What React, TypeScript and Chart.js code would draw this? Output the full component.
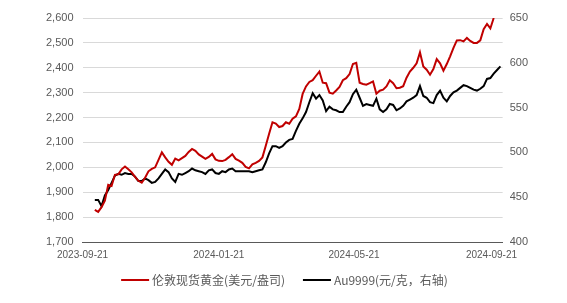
import React, { useEffect, useRef } from "react";
import { Chart, registerables } from "chart.js";

Chart.register(...registerables);

const START_DATE = "2023-09-21";
const AXIS_END_DAY = 376;

const xTickDates = ["2023-09-21", "2024-01-21", "2024-05-21", "2024-09-21"];

const seriesNames = ["伦敦现货黄金(美元/盎司)", "Au9999(元/克，右轴)"];
const seriesColors = ["#C00000", "#000000"];

const dates = [
  "2023-10-02", "2023-10-05", "2023-10-08", "2023-10-11", "2023-10-14", "2023-10-17", "2023-10-20", "2023-10-23", "2023-10-26", "2023-10-29",
  "2023-11-01", "2023-11-04", "2023-11-07", "2023-11-10", "2023-11-13", "2023-11-16", "2023-11-19", "2023-11-22", "2023-11-25", "2023-11-28",
  "2023-12-01", "2023-12-04", "2023-12-07", "2023-12-10", "2023-12-13", "2023-12-16", "2023-12-19", "2023-12-22", "2023-12-25", "2023-12-28",
  "2023-12-31", "2024-01-03", "2024-01-06", "2024-01-09", "2024-01-12", "2024-01-15", "2024-01-18", "2024-01-21", "2024-01-24", "2024-01-27",
  "2024-01-30", "2024-02-02", "2024-02-05", "2024-02-08", "2024-02-11", "2024-02-14", "2024-02-17", "2024-02-20", "2024-02-23", "2024-02-26",
  "2024-02-29", "2024-03-03", "2024-03-06", "2024-03-09", "2024-03-12", "2024-03-15", "2024-03-18", "2024-03-21", "2024-03-24", "2024-03-27",
  "2024-03-30", "2024-04-02", "2024-04-05", "2024-04-08", "2024-04-11", "2024-04-14", "2024-04-17", "2024-04-20", "2024-04-23", "2024-04-26",
  "2024-04-29", "2024-05-02", "2024-05-05", "2024-05-08", "2024-05-11", "2024-05-14", "2024-05-17", "2024-05-20", "2024-05-23", "2024-05-26",
  "2024-05-29", "2024-06-01", "2024-06-04", "2024-06-07", "2024-06-10", "2024-06-13", "2024-06-16", "2024-06-19", "2024-06-22", "2024-06-25",
  "2024-06-28", "2024-07-01", "2024-07-04", "2024-07-07", "2024-07-10", "2024-07-13", "2024-07-16", "2024-07-19", "2024-07-22", "2024-07-25",
  "2024-07-28", "2024-07-31", "2024-08-03", "2024-08-06", "2024-08-09", "2024-08-12", "2024-08-15", "2024-08-18", "2024-08-21", "2024-08-24",
  "2024-08-27", "2024-08-30", "2024-09-02", "2024-09-05", "2024-09-08", "2024-09-11", "2024-09-14", "2024-09-17", "2024-09-20", "2024-09-23",
  "2024-09-26", "2024-09-29",
];

const londonGoldUsd = [
  1829, 1821, 1840, 1866, 1930, 1925, 1970, 1972, 1992, 2003,
  1992, 1980, 1962, 1946, 1938, 1958, 1984, 1994, 2000, 2030,
  2060, 2040, 2022, 2010, 2035, 2028, 2037, 2046, 2062, 2074,
  2066, 2052, 2043, 2034, 2042, 2054, 2032, 2026, 2025, 2030,
  2041, 2053, 2034, 2027, 2018, 2002, 1996, 2012, 2018, 2026,
  2040, 2087, 2135, 2181, 2176, 2162, 2166, 2181, 2175, 2195,
  2205, 2235, 2295, 2325, 2343, 2350, 2368, 2385, 2340, 2338,
  2300, 2296, 2309, 2323, 2350, 2358, 2375, 2415, 2420, 2340,
  2335, 2332, 2338, 2345, 2296, 2308, 2312, 2325, 2350, 2338,
  2318, 2320, 2326, 2360, 2385, 2400, 2418, 2462, 2405, 2392,
  2372, 2395, 2435, 2418, 2388, 2415, 2446, 2480, 2510, 2511,
  2506, 2520, 2508, 2500, 2500, 2510, 2555, 2576, 2558, 2600,
  null, null,
];

const au9999Cny = [
  447, 447, 440, 452, 458, 466, 474, 476, 475, 477,
  476, 476, 473, 468, 468, 471, 469, 466, 467, 471,
  476, 481, 478, 471, 467, 476, 475, 477, 479, 482,
  480, 479, 478, 476, 480, 481, 477, 476, 479, 478,
  481, 482, 479, 479, 479, 479, 479, 478, 479, 480,
  481, 489, 499, 507, 507, 505, 507, 511, 514, 515,
  524, 532, 538, 545, 556, 566, 560, 564, 558, 546,
  551, 548, 547, 545, 545, 551, 556, 565, 570, 561,
  552, 554, 553, 552, 560, 548, 545, 548, 554, 553,
  547, 549, 552, 557, 559, 561, 564, 574, 563, 561,
  556, 555, 564, 569, 561, 557, 563, 567, 569, 572,
  575, 574, 572, 570, 569, 571, 574, 582, 583, 588,
  592, 596,
];

const DAY_MS = 86400000;
function dayOffset(s: string): number {
  return Math.round((Date.parse(s) - Date.parse(START_DATE)) / DAY_MS);
}

const tickFont = { family: "'Liberation Sans', Arial, sans-serif", size: 11 };
const axisColor = "#595959";
const gridColor = "#d9d9d9";
const legendFont = "12px 'Noto Sans CJK SC', sans-serif";

const customLegend = {
  id: "customLegend",
  afterDraw(chart: any) {
    const ctx = chart.ctx;
    const lineLen = 28;
    const lineGap = 3;
    const itemGap = 18;
    const y = 280;
    ctx.save();
    ctx.font = legendFont;
    const widths = seriesNames.map((t) => lineLen + lineGap + ctx.measureText(t).width);
    const total = widths.reduce((a, b) => a + b, 0) + itemGap * (widths.length - 1);
    let x = (chart.width - total) / 2 + 1;
    seriesNames.forEach((t, i) => {
      ctx.strokeStyle = seriesColors[i];
      ctx.lineWidth = 2;
      ctx.beginPath();
      ctx.moveTo(x, y);
      ctx.lineTo(x + lineLen, y);
      ctx.stroke();
      ctx.fillStyle = axisColor;
      ctx.textBaseline = "middle";
      ctx.textAlign = "left";
      ctx.fillText(t, x + lineLen + lineGap, y);
      x += widths[i] + itemGap;
    });
    ctx.restore();
  },
};

export default function App() {
  const ref = useRef<HTMLCanvasElement>(null);

  useEffect(() => {
    const canvas = ref.current;
    if (!canvas) return;
    const redPts = dates
      .map((d, i) => ({ x: dayOffset(d), y: londonGoldUsd[i] }))
      .filter((p) => p.y !== null);
    const blackPts = dates
      .map((d, i) => ({ x: dayOffset(d), y: au9999Cny[i] }))
      .filter((p) => p.y !== null);
    const tickLabelMap: Record<number, string> = {};
    xTickDates.forEach((d) => (tickLabelMap[dayOffset(d)] = d));

    const chart = new Chart(canvas, {
      type: "line",
      data: {
        datasets: [
          {
            label: seriesNames[0],
            data: redPts as any,
            borderColor: seriesColors[0],
            backgroundColor: seriesColors[0],
            borderWidth: 2,
            pointRadius: 0,
            tension: 0,
            yAxisID: "y",
          },
          {
            label: seriesNames[1],
            data: blackPts as any,
            borderColor: seriesColors[1],
            backgroundColor: seriesColors[1],
            borderWidth: 2,
            pointRadius: 0,
            tension: 0,
            yAxisID: "y1",
          },
        ],
      },
      options: {
        animation: false,
        responsive: false,
        devicePixelRatio: 1,
        layout: { padding: { left: 37, right: 32, top: 18, bottom: 35 } },
        plugins: {
          tooltip: { enabled: false },
          legend: { display: false },
        },
        scales: {
          x: {
            type: "linear",
            min: 0,
            max: AXIS_END_DAY,
            afterBuildTicks: (axis: any) => {
              axis.ticks = xTickDates.map((d) => ({ value: dayOffset(d) }));
            },
            ticks: {
              autoSkip: false,
              maxRotation: 0,
              padding: 7,
              color: axisColor,
              font: { family: "'Liberation Sans', Arial, sans-serif", size: 10 },
              callback: (v: any) => tickLabelMap[v] ?? "",
            },
            grid: { display: false, drawTicks: false },
            border: { display: true, color: axisColor, width: 1 },
          },
          y: {
            position: "left",
            min: 1700,
            max: 2600,
            ticks: {
              stepSize: 100,
              padding: 9,
              color: axisColor,
              font: tickFont,
              callback: (v: any) => Number(v).toLocaleString("en-US"),
            },
            grid: {
              drawTicks: false,
              color: (ctx: any) => (ctx.tick && ctx.tick.value === 1700 ? axisColor : gridColor),
              lineWidth: 1,
            },
            border: { display: false },
          },
          y1: {
            position: "right",
            min: 400,
            max: 650,
            ticks: {
              stepSize: 50,
              padding: 7,
              color: axisColor,
              font: tickFont,
            },
            grid: { display: false, drawTicks: false },
            border: { display: false },
          },
        },
      } as any,
      plugins: [customLegend],
    });
    return () => chart.destroy();
  }, []);

  return (
    <div style={{ position: "absolute", left: 0, top: 0, width: 567, height: 303, background: "#ffffff" }}>
      <canvas ref={ref} width={567} height={303} style={{ display: "block" }} />
    </div>
  );
}
